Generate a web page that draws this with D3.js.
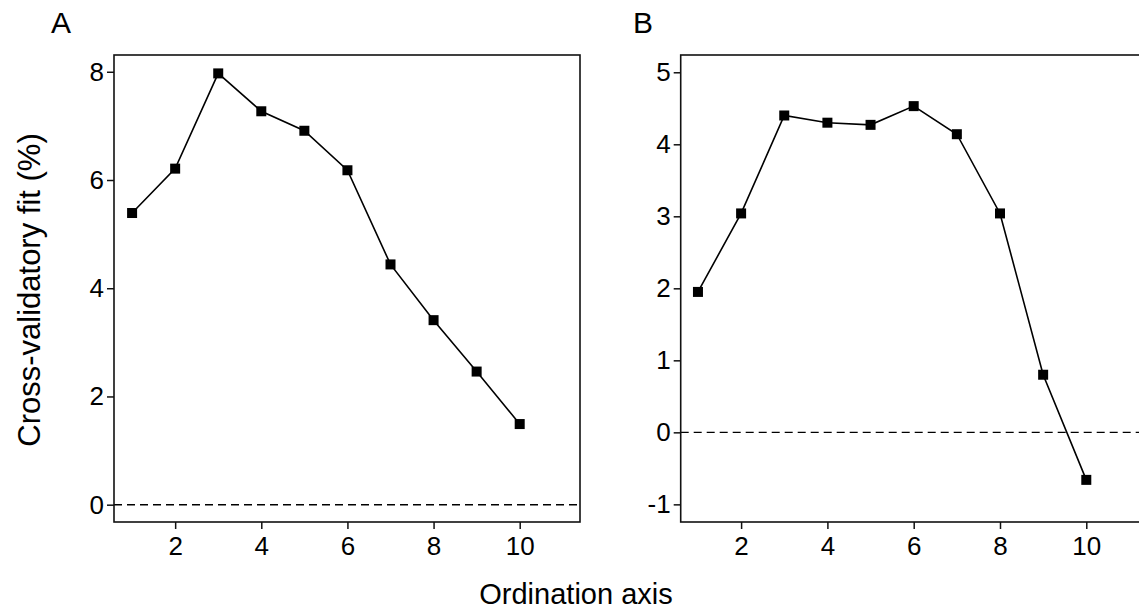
<!DOCTYPE html>
<html>
<head>
<meta charset="utf-8">
<script src="https://cdn.jsdelivr.net/npm/d3@7"></script>
<style>
  body { margin: 0; background: #fff; }
  svg text { font-family: "Liberation Sans", Arial, sans-serif; fill: #000; }
</style>
</head>
<body>
<svg id="chart" width="1139" height="614"></svg>
<script>
// ---- data ----
const axesA = [1, 2, 3, 4, 5, 6, 7, 8, 9, 10];
const fitA = [5.39, 6.21, 7.97, 7.27, 6.91, 6.18, 4.44, 3.41, 2.46, 1.49];
const axesB = [1, 2, 3, 4, 5, 6, 7, 8, 9, 10];
const fitB = [1.95, 3.04, 4.40, 4.30, 4.27, 4.53, 4.14, 3.04, 0.80, -0.66];
const xTicks = [2, 4, 6, 8, 10];
const yTicksA = [0, 2, 4, 6, 8];
const yTicksB = [-1, 0, 1, 2, 3, 4, 5];
const panelLabels = ["A", "B"];
const xTitle = "Ordination axis";
const yTitle = "Cross-validatory fit (%)";

(function () {
const svg = d3.select("#chart");

const panels = [
  { label: panelLabels[0], xs: axesA, ys: fitA, yTicks: yTicksA,
    left: 114, labelX: 51, xDomain: [0.58, 11.4], yDomain: [-0.32, 8.31] },
  { label: panelLabels[1], xs: axesB, ys: fitB, yTicks: yTicksB,
    left: 680.7, labelX: 633, xDomain: [0.6, 11.4], yDomain: [-1.245, 5.24] }
];
const plotTop = 55, plotBottom = 522, plotWidth = 466;
const fmt = d => String(d);

panels.forEach(p => {
  const x = d3.scaleLinear().domain(p.xDomain).range([p.left, p.left + plotWidth]);
  const y = d3.scaleLinear().domain(p.yDomain).range([plotBottom, plotTop]);
  const g = svg.append("g");

  // zero reference line
  g.append("line")
    .attr("x1", p.left).attr("x2", p.left + plotWidth)
    .attr("y1", y(0)).attr("y2", y(0))
    .attr("stroke", "#000").attr("stroke-width", 1.4)
    .attr("stroke-dasharray", "8,5");

  // box
  g.append("rect")
    .attr("x", p.left).attr("y", plotTop)
    .attr("width", plotWidth).attr("height", plotBottom - plotTop)
    .attr("fill", "none").attr("stroke", "#111").attr("stroke-width", 1.6);

  // axes
  const xAxis = d3.axisBottom(x).tickValues(xTicks).tickFormat(fmt).tickSize(7).tickPadding(8);
  const gx = g.append("g").attr("transform", `translate(0,${plotBottom})`).call(xAxis);
  const yAxis = d3.axisLeft(y).tickValues(p.yTicks).tickFormat(fmt).tickSize(7).tickPadding(3);
  const gy = g.append("g").attr("transform", `translate(${p.left},0)`).call(yAxis);
  [gx, gy].forEach(a => {
    a.attr("font-size", null).attr("font-family", null);
    a.select(".domain").remove();
    a.selectAll(".tick line").attr("stroke", "#111").attr("stroke-width", 1.5);
    a.selectAll(".tick text").style("font-size", "26px")
      .style("font-family", "'Liberation Sans', Arial, sans-serif").attr("fill", "#000");
  });

  // line
  const pts = p.xs.map((d, i) => [d, p.ys[i]]);
  g.append("path")
    .datum(pts)
    .attr("fill", "none").attr("stroke", "#000").attr("stroke-width", 1.6)
    .attr("d", d3.line().x(d => x(d[0])).y(d => y(d[1])));

  // markers
  g.selectAll("rect.mk").data(pts).join("rect")
    .attr("class", "mk")
    .attr("x", d => x(d[0]) - 5).attr("y", d => y(d[1]) - 5)
    .attr("width", 10).attr("height", 10).attr("fill", "#000");

  // panel label
  svg.append("text")
    .attr("x", p.labelX).attr("y", 33)
    .style("font-size", "30px")
    .text(p.label);
});

// axis titles
svg.append("text")
  .attr("x", 576).attr("y", 604)
  .attr("text-anchor", "middle")
  .style("font-size", "29px")
  .text(xTitle);

svg.append("text")
  .attr("transform", "translate(40,290) rotate(-90)")
  .attr("text-anchor", "middle")
  .style("font-size", "31px")
  .text(yTitle);
})();
</script>
</body>
</html>
